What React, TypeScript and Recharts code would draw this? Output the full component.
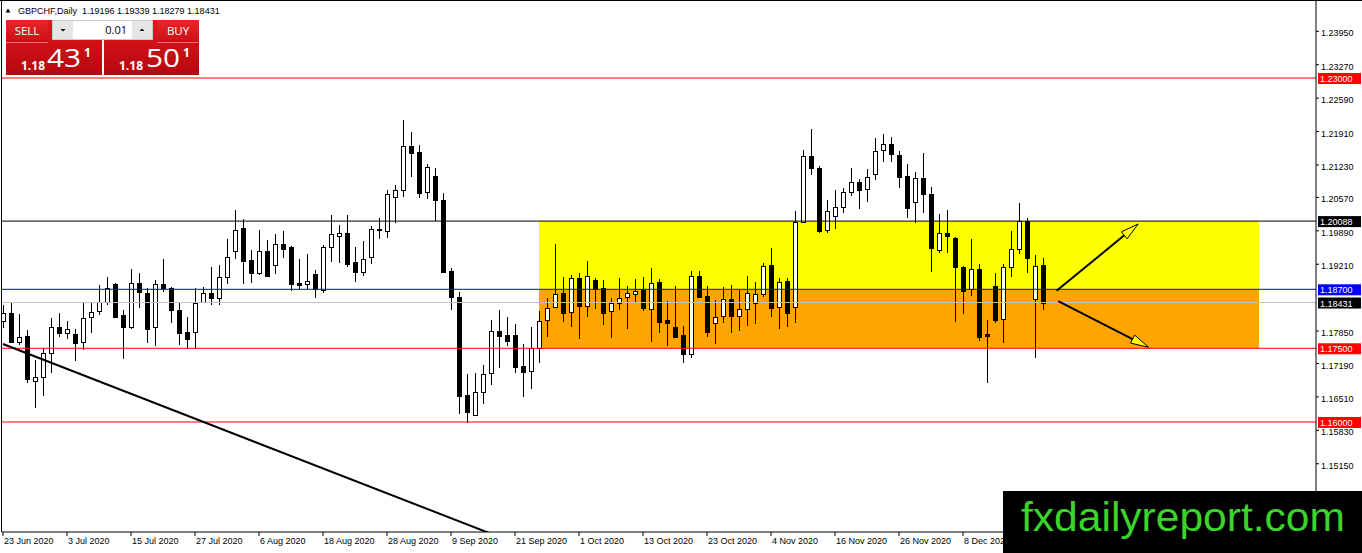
import React from 'react';
import { ComposedChart, Bar, XAxis, YAxis, ReferenceLine, ReferenceArea } from 'recharts';

const symbolName = 'GBPCHF,Daily';
const dateLabels = ['23 Jun 2020', '3 Jul 2020', '15 Jul 2020', '27 Jul 2020', '6 Aug 2020', '18 Aug 2020', '28 Aug 2020', '9 Sep 2020', '21 Sep 2020', '1 Oct 2020', '13 Oct 2020', '23 Oct 2020', '4 Nov 2020', '16 Nov 2020', '26 Nov 2020', '8 Dec 2020'];
const dateLabelBars = [0, 8, 16, 24, 32, 40, 48, 56, 64, 72, 80, 88, 96, 104, 112, 120];

const opens = [1.18055, 1.18217, 1.17628, 1.1775, 1.16834, 1.16915, 1.17404, 1.17933, 1.17811, 1.17791, 1.17628, 1.18136, 1.18258, 1.18441, 1.18808, 1.18177, 1.17933, 1.18828, 1.18624, 1.17933, 1.18808, 1.18726, 1.18279, 1.17832, 1.17832, 1.18441, 1.18624, 1.18523, 1.1895, 1.1948, 1.19948, 1.19297, 1.19031, 1.1948, 1.19195, 1.19622, 1.19561, 1.18828, 1.18808, 1.19011, 1.18686, 1.19561, 1.19785, 1.19846, 1.19256, 1.19052, 1.19358, 1.19927, 1.19887, 1.20578, 1.20721, 1.21616, 1.21494, 1.2068, 1.21006, 1.20517, 1.19073, 1.18543, 1.16549, 1.16142, 1.1661, 1.16997, 1.17852, 1.1777, 1.1777, 1.17139, 1.17037, 1.17506, 1.18075, 1.1834, 1.18624, 1.18238, 1.1893, 1.1836, 1.18889, 1.18726, 1.18258, 1.18421, 1.18543, 1.18604, 1.18706, 1.18299, 1.18848, 1.18075, 1.17933, 1.1777, 1.17384, 1.1897, 1.18563, 1.18014, 1.18156, 1.18502, 1.18156, 1.18299, 1.18421, 1.18604, 1.19195, 1.1834, 1.18869, 1.1834, 1.2007, 1.21413, 1.21169, 1.19907, 1.20191, 1.20374, 1.2068, 1.20883, 1.20741, 1.21046, 1.21535, 1.21657, 1.21433, 1.21006, 1.20476, 1.20965, 1.20639, 1.195, 1.19846, 1.19744, 1.19154, 1.18706, 1.19113, 1.17791, 1.18767, 1.18095, 1.19154, 1.1952, 1.2009, 1.18502, 1.19196];
const highs = [1.1838, 1.18421, 1.18197, 1.17872, 1.17261, 1.17506, 1.18116, 1.18217, 1.18055, 1.17892, 1.18441, 1.18441, 1.18787, 1.1895, 1.18828, 1.18279, 1.19113, 1.19031, 1.18726, 1.18889, 1.19317, 1.18747, 1.18421, 1.18136, 1.18726, 1.18747, 1.19154, 1.19195, 1.19724, 1.20313, 1.2013, 1.195, 1.19907, 1.19704, 1.19826, 1.19887, 1.19581, 1.19317, 1.19419, 1.19093, 1.19602, 1.20212, 1.20008, 1.20212, 1.19561, 1.19683, 1.19988, 1.20151, 1.20721, 1.20823, 1.22145, 1.21901, 1.21637, 1.2125, 1.21169, 1.20659, 1.19134, 1.18645, 1.16977, 1.16997, 1.1716, 1.18075, 1.18279, 1.18136, 1.17994, 1.17587, 1.17933, 1.18258, 1.18523, 1.19622, 1.1895, 1.18991, 1.19031, 1.19276, 1.1893, 1.18889, 1.18523, 1.1893, 1.18767, 1.18909, 1.1895, 1.19134, 1.18909, 1.18462, 1.18767, 1.17953, 1.19073, 1.19073, 1.18767, 1.18482, 1.18747, 1.18787, 1.18686, 1.1897, 1.18848, 1.19235, 1.19541, 1.1893, 1.1893, 1.20293, 1.21535, 1.21962, 1.21209, 1.20517, 1.20721, 1.20761, 1.21169, 1.20944, 1.21148, 1.21779, 1.2186, 1.21799, 1.21514, 1.2125, 1.21087, 1.21474, 1.20782, 1.20232, 1.20313, 1.19765, 1.19174, 1.19724, 1.19215, 1.18075, 1.19031, 1.19215, 1.19887, 1.20456, 1.20151, 1.19398, 1.19339];
const lows = [1.17912, 1.17607, 1.17567, 1.16793, 1.16284, 1.16528, 1.16997, 1.1773, 1.17689, 1.17241, 1.17465, 1.17811, 1.18177, 1.1838, 1.18116, 1.17282, 1.17892, 1.18319, 1.17607, 1.17546, 1.18645, 1.18014, 1.17567, 1.17485, 1.17485, 1.18421, 1.1838, 1.1838, 1.18808, 1.19317, 1.18808, 1.18828, 1.18991, 1.1895, 1.19011, 1.19337, 1.18665, 1.18686, 1.18706, 1.18523, 1.18624, 1.19256, 1.19235, 1.19154, 1.18848, 1.1897, 1.19215, 1.19724, 1.19744, 1.20049, 1.20578, 1.20985, 1.20558, 1.20537, 1.2009, 1.19031, 1.18279, 1.16162, 1.15979, 1.16121, 1.16366, 1.16752, 1.17099, 1.17546, 1.16997, 1.16508, 1.16671, 1.172, 1.1773, 1.18319, 1.18034, 1.17933, 1.17689, 1.18136, 1.18299, 1.17973, 1.17709, 1.18279, 1.17892, 1.18421, 1.18258, 1.17628, 1.17811, 1.17546, 1.17709, 1.172, 1.17302, 1.18523, 1.1773, 1.17587, 1.18014, 1.17811, 1.17852, 1.17953, 1.17994, 1.18543, 1.18136, 1.17892, 1.17933, 1.18014, 1.20049, 1.21026, 1.19846, 1.19846, 1.19927, 1.20252, 1.20598, 1.20334, 1.20476, 1.20924, 1.21291, 1.21291, 1.20761, 1.20151, 1.20049, 1.20252, 1.19052, 1.19439, 1.19439, 1.18034, 1.18197, 1.18563, 1.17648, 1.16793, 1.18014, 1.17607, 1.1895, 1.19419, 1.19031, 1.17302, 1.18279];
const closes = [1.18217, 1.17628, 1.1773, 1.16874, 1.16915, 1.17404, 1.17933, 1.17811, 1.17892, 1.17607, 1.18116, 1.18238, 1.18441, 1.18726, 1.18136, 1.17933, 1.18828, 1.18645, 1.17892, 1.18808, 1.18726, 1.18279, 1.17811, 1.17689, 1.18421, 1.18624, 1.18523, 1.1895, 1.19358, 1.19907, 1.19276, 1.19031, 1.1948, 1.1897, 1.19622, 1.1952, 1.18808, 1.18787, 1.18869, 1.18706, 1.19561, 1.19826, 1.19846, 1.19215, 1.19052, 1.19317, 1.19927, 1.19907, 1.20639, 1.20721, 1.21616, 1.21474, 1.20659, 1.21189, 1.20517, 1.19052, 1.18543, 1.16528, 1.16203, 1.1661, 1.16977, 1.17852, 1.1775, 1.17648, 1.17119, 1.17017, 1.17506, 1.18055, 1.18319, 1.18604, 1.18217, 1.1893, 1.1836, 1.1897, 1.18706, 1.18217, 1.18421, 1.18523, 1.18624, 1.18665, 1.18319, 1.18828, 1.18034, 1.18014, 1.1773, 1.17384, 1.1897, 1.18543, 1.17832, 1.18136, 1.18502, 1.18156, 1.18299, 1.18624, 1.18604, 1.19174, 1.18319, 1.18848, 1.18217, 1.2007, 1.21413, 1.21169, 1.19887, 1.20293, 1.20374, 1.2068, 1.20883, 1.20721, 1.20985, 1.21514, 1.21657, 1.21454, 1.20985, 1.20354, 1.20965, 1.20639, 1.19541, 1.19846, 1.19785, 1.19154, 1.18665, 1.19113, 1.1773, 1.1775, 1.18075, 1.19154, 1.1952, 1.2009, 1.19337, 1.19174, 1.18431];

const priceTicks = [1.2395, 1.2327, 1.2259, 1.2191, 1.2123, 1.2057, 1.1989, 1.1921, 1.1785, 1.1719, 1.1651, 1.1583, 1.1515];
const levelPrices = [1.23, 1.20088, 1.187, 1.18431, 1.175, 1.16];
const levelLineColors = ['#ff0000', '#000000', '#0000ff', '#c0c0c0', '#ff0000', '#ff0000'];
const levelTagColors = ['#ff0000', '#000000', '#0000ff', '#000000', '#ff0000', '#ff0000'];
const zoneBars = [67, 157];
const zonePrices = [1.175, 1.187, 1.20088];
const zoneColors = ['#ffa500', '#ffff00'];
const trendBars = [0, 61];
const trendPrices = [1.17587, 1.13726];
const arrowUpBars = [131.7, 141.9];
const arrowUpPrices = [1.1867, 1.2003];
const arrowDownBars = [131.9, 143.2];
const arrowDownPrices = [1.1846, 1.1752];
const askPrice = 1.18501;
const lotSize = '0.01';
const siteName = 'fxdailyreport.com';

const AXIS_FONT = '"Liberation Sans", Arial, sans-serif';
const W = 1362;
const H = 553;

const candles = opens.map((o, i) => ({ i, open: o, high: highs[i], low: lows[i], close: closes[i] }));
const last = candles[candles.length - 1];

const Candle = (props: any) => {
  const { x, y, width, height, payload } = props;
  if (!payload || x == null || y == null) return null;
  const { open, high, low, close } = payload;
  const top = Math.min(y, y + height);
  const bottom = Math.max(y, y + height);
  const span = high - low;
  const k = span > 0 ? (bottom - top) / span : 0;
  const cx = Math.round(x + width / 2) + 0.5;
  const yO = top + (high - open) * k;
  const yC = top + (high - close) * k;
  const bTop = Math.round(Math.min(yO, yC)) + 0.5;
  const bH = Math.max(1, Math.round(Math.abs(yC - yO)));
  const up = close >= open;
  return (
    <g>
      <line x1={cx} x2={cx} y1={top} y2={bottom} stroke="#000" strokeWidth={1} />
      <rect x={cx - 2} y={bTop} width={4} height={bH} fill={up ? '#fff' : '#000'} stroke="#000" strokeWidth={1} />
    </g>
  );
};

const XTick = (p: any) => {
  const { x, y, payload } = p;
  const idx = dateLabelBars.indexOf(payload.value);
  return (
    <text x={x + 1} y={y} dy={6} textAnchor="start" fontSize={9} fontFamily={AXIS_FONT} fill="#000">
      {idx >= 0 ? dateLabels[idx] : ''}
    </text>
  );
};

const YTick = (p: any) => {
  const { x, y, payload } = p;
  return (
    <text x={x} y={y} dy={5} textAnchor="start" fontSize={9} fontFamily={AXIS_FONT} fill="#000">
      {Number(payload.value).toFixed(5)}
    </text>
  );
};

const makeTag = (text: string, bg: string) => (props: any) => {
  const vb = props.viewBox || {};
  const right = (vb.x ?? 0) + (vb.width ?? 0);
  const cy = vb.y ?? 0;
  return (
    <g>
      <rect x={right + 2} y={cy - 5} width={43} height={11} fill={bg} />
      <text x={right + 4} y={cy + 4} fill="#fff" fontSize={9} fontFamily={AXIS_FONT}>{text}</text>
    </g>
  );
};

const Arrow = (p: any) => {
  const { x1, y1, x2, y2 } = p;
  if ([x1, y1, x2, y2].some((v) => v == null || Number.isNaN(v))) return null;
  const ang = Math.atan2(y2 - y1, x2 - x1);
  const c = Math.cos(ang);
  const s = Math.sin(ang);
  const L = 18;
  const Wd = 4.5;
  const bx = x2 - L * c;
  const by = y2 - L * s;
  const pts = `${x2},${y2} ${bx - Wd * s},${by + Wd * c} ${bx + Wd * s},${by - Wd * c}`;
  return (
    <g>
      <line x1={x1} y1={y1} x2={bx} y2={by} stroke="#000" strokeWidth={2} />
      <polygon points={pts} fill="#ffff00" stroke="#000" strokeWidth={1} />
    </g>
  );
};

const splitPrice = (v: number) => {
  const s = v.toFixed(5);
  return [s.slice(0, 4), s.slice(4, 6), s.slice(6)];
};

const Overlay = () => {
  const bid = splitPrice(last.close);
  const ask = splitPrice(askPrice);
  const ohlc = [last.open, last.high, last.low, last.close].map((v) => v.toFixed(5)).join(' ');
  return (
    <svg width={W} height={H} style={{ position: 'absolute', left: 0, top: 0, pointerEvents: 'none' }}>
      <defs>
        <linearGradient id="redPanel" x1="0" y1="0" x2="0" y2="1">
          <stop offset="0" stopColor="#e2191e" />
          <stop offset="1" stopColor="#b4080e" />
        </linearGradient>
        <linearGradient id="redBtn" x1="0" y1="0" x2="0" y2="1">
          <stop offset="0" stopColor="#e8262a" />
          <stop offset="1" stopColor="#cc1015" />
        </linearGradient>
      </defs>
      <line x1={0} y1={0.5} x2={W} y2={0.5} stroke="#000" />
      <line x1={1.5} y1={0} x2={1.5} y2={532} stroke="#000" />
      <polygon points="5.5,12.5 10.5,12.5 8,8.5" fill="#000" />
      <text x={18} y={14} fontSize={9} fontFamily={AXIS_FONT} fill="#000" style={{ whiteSpace: 'pre' }}>
        {`${symbolName}  ${ohlc}`}
      </text>
      <rect x={6} y={20} width={96} height={55} fill="url(#redPanel)" />
      <rect x={104} y={20} width={95} height={55} fill="url(#redPanel)" />
      <rect x={6} y={20} width={42} height={22} fill="url(#redBtn)" />
      <rect x={157} y={20} width={42} height={22} fill="url(#redBtn)" />
      <line x1={6} y1={42.5} x2={48} y2={42.5} stroke="#f07070" />
      <line x1={157} y1={42.5} x2={199} y2={42.5} stroke="#f07070" />
      <text x={27} y={35} textAnchor="middle" fontSize={11.5} fontFamily='"Open Sans", sans-serif' fill="#fff">SELL</text>
      <text x={178} y={35} textAnchor="middle" fontSize={11.5} fontFamily='"Open Sans", sans-serif' fill="#fff">BUY</text>
      <rect x={52.5} y={20.5} width={100} height={19} fill="#fff" stroke="#c8c8c8" />
      <rect x={53} y={21} width={20} height={18} fill="#e6e6e6" />
      <rect x={132} y={21} width={20} height={18} fill="#e6e6e6" />
      <polygon points="60.5,29 65.5,29 63,31.5" fill="#000" />
      <polygon points="139.5,31 144.5,31 142,28.5" fill="#000" />
      <text x={127} y={34} textAnchor="end" fontSize={11} fontFamily='"Open Sans", sans-serif' fill="#000">{lotSize}</text>
      <text x={21} y={70} fontSize={12} fontWeight="bold" fontFamily='"Open Sans", sans-serif' fill="#fff">{bid[0]}</text>
      <text x={47} y={67} fontSize={26} textLength={34} lengthAdjust="spacingAndGlyphs" fontFamily='"Open Sans", sans-serif' fill="#fff">{bid[1]}</text>
      <text x={84} y={57} fontSize={12} fontWeight="bold" fontFamily='"Open Sans", sans-serif' fill="#fff">{bid[2]}</text>
      <text x={119} y={70} fontSize={12} fontWeight="bold" fontFamily='"Open Sans", sans-serif' fill="#fff">{ask[0]}</text>
      <text x={146} y={67} fontSize={26} textLength={34} lengthAdjust="spacingAndGlyphs" fontFamily='"Open Sans", sans-serif' fill="#fff">{ask[1]}</text>
      <text x={183} y={57} fontSize={12} fontWeight="bold" fontFamily='"Open Sans", sans-serif' fill="#fff">{ask[2]}</text>
      <rect x={1003} y={491} width={W - 1003} height={H - 491} fill="#000" />
      <text x={1021} y={531} fontSize={40} textLength={324} lengthAdjust="spacingAndGlyphs" fontFamily={AXIS_FONT} fill="#3ad42a">{siteName}</text>
    </svg>
  );
};

export default function App() {
  return (
    <div style={{ position: 'absolute', left: 0, top: 0, width: W, height: H, background: '#fff', overflow: 'hidden' }}>
      <ComposedChart width={W} height={H} data={candles} margin={{ top: 1, right: 0, bottom: 0, left: 2 }}>
        <XAxis
          type="number"
          dataKey="i"
          domain={[-0.125, 164.125]}
          allowDataOverflow
          ticks={dateLabelBars}
          interval={0}
          height={21}
          tickSize={4}
          tickMargin={2}
          axisLine={{ stroke: '#000' }}
          tickLine={{ stroke: '#000' }}
          tick={<XTick />}
        />
        <YAxis
          type="number"
          orientation="right"
          domain={[1.13761, 1.24567]}
          allowDataOverflow
          ticks={priceTicks}
          interval={0}
          width={46}
          tickSize={3}
          tickMargin={2}
          axisLine={{ stroke: '#000' }}
          tickLine={{ stroke: '#000' }}
          tick={<YTick />}
        />
        <ReferenceArea x1={zoneBars[0]} x2={zoneBars[1]} y1={zonePrices[0]} y2={zonePrices[1]} fill={zoneColors[0]} fillOpacity={1} stroke="none" ifOverflow="hidden" />
        <ReferenceArea x1={zoneBars[0]} x2={zoneBars[1]} y1={zonePrices[1]} y2={zonePrices[2]} fill={zoneColors[1]} fillOpacity={1} stroke="none" ifOverflow="hidden" />
        {levelPrices.map((p, k) => (
          <ReferenceLine key={`lv${k}`} y={p} stroke={levelLineColors[k]} strokeWidth={1} ifOverflow="visible" label={makeTag(p.toFixed(5), levelTagColors[k])} />
        ))}
        <ReferenceLine
          segment={[{ x: trendBars[0], y: trendPrices[0] }, { x: trendBars[1], y: trendPrices[1] }]}
          stroke="#000"
          strokeWidth={2}
          ifOverflow="hidden"
        />
        <Bar dataKey={(d: any) => [d.low, d.high]} barSize={5} isAnimationActive={false} shape={(p: any) => <Candle {...p} />} />
        <ReferenceLine
          segment={[{ x: arrowUpBars[0], y: arrowUpPrices[0] }, { x: arrowUpBars[1], y: arrowUpPrices[1] }]}
          ifOverflow="visible"
          shape={(p: any) => <Arrow {...p} />}
        />
        <ReferenceLine
          segment={[{ x: arrowDownBars[0], y: arrowDownPrices[0] }, { x: arrowDownBars[1], y: arrowDownPrices[1] }]}
          ifOverflow="visible"
          shape={(p: any) => <Arrow {...p} />}
        />
      </ComposedChart>
      <Overlay />
    </div>
  );
}
